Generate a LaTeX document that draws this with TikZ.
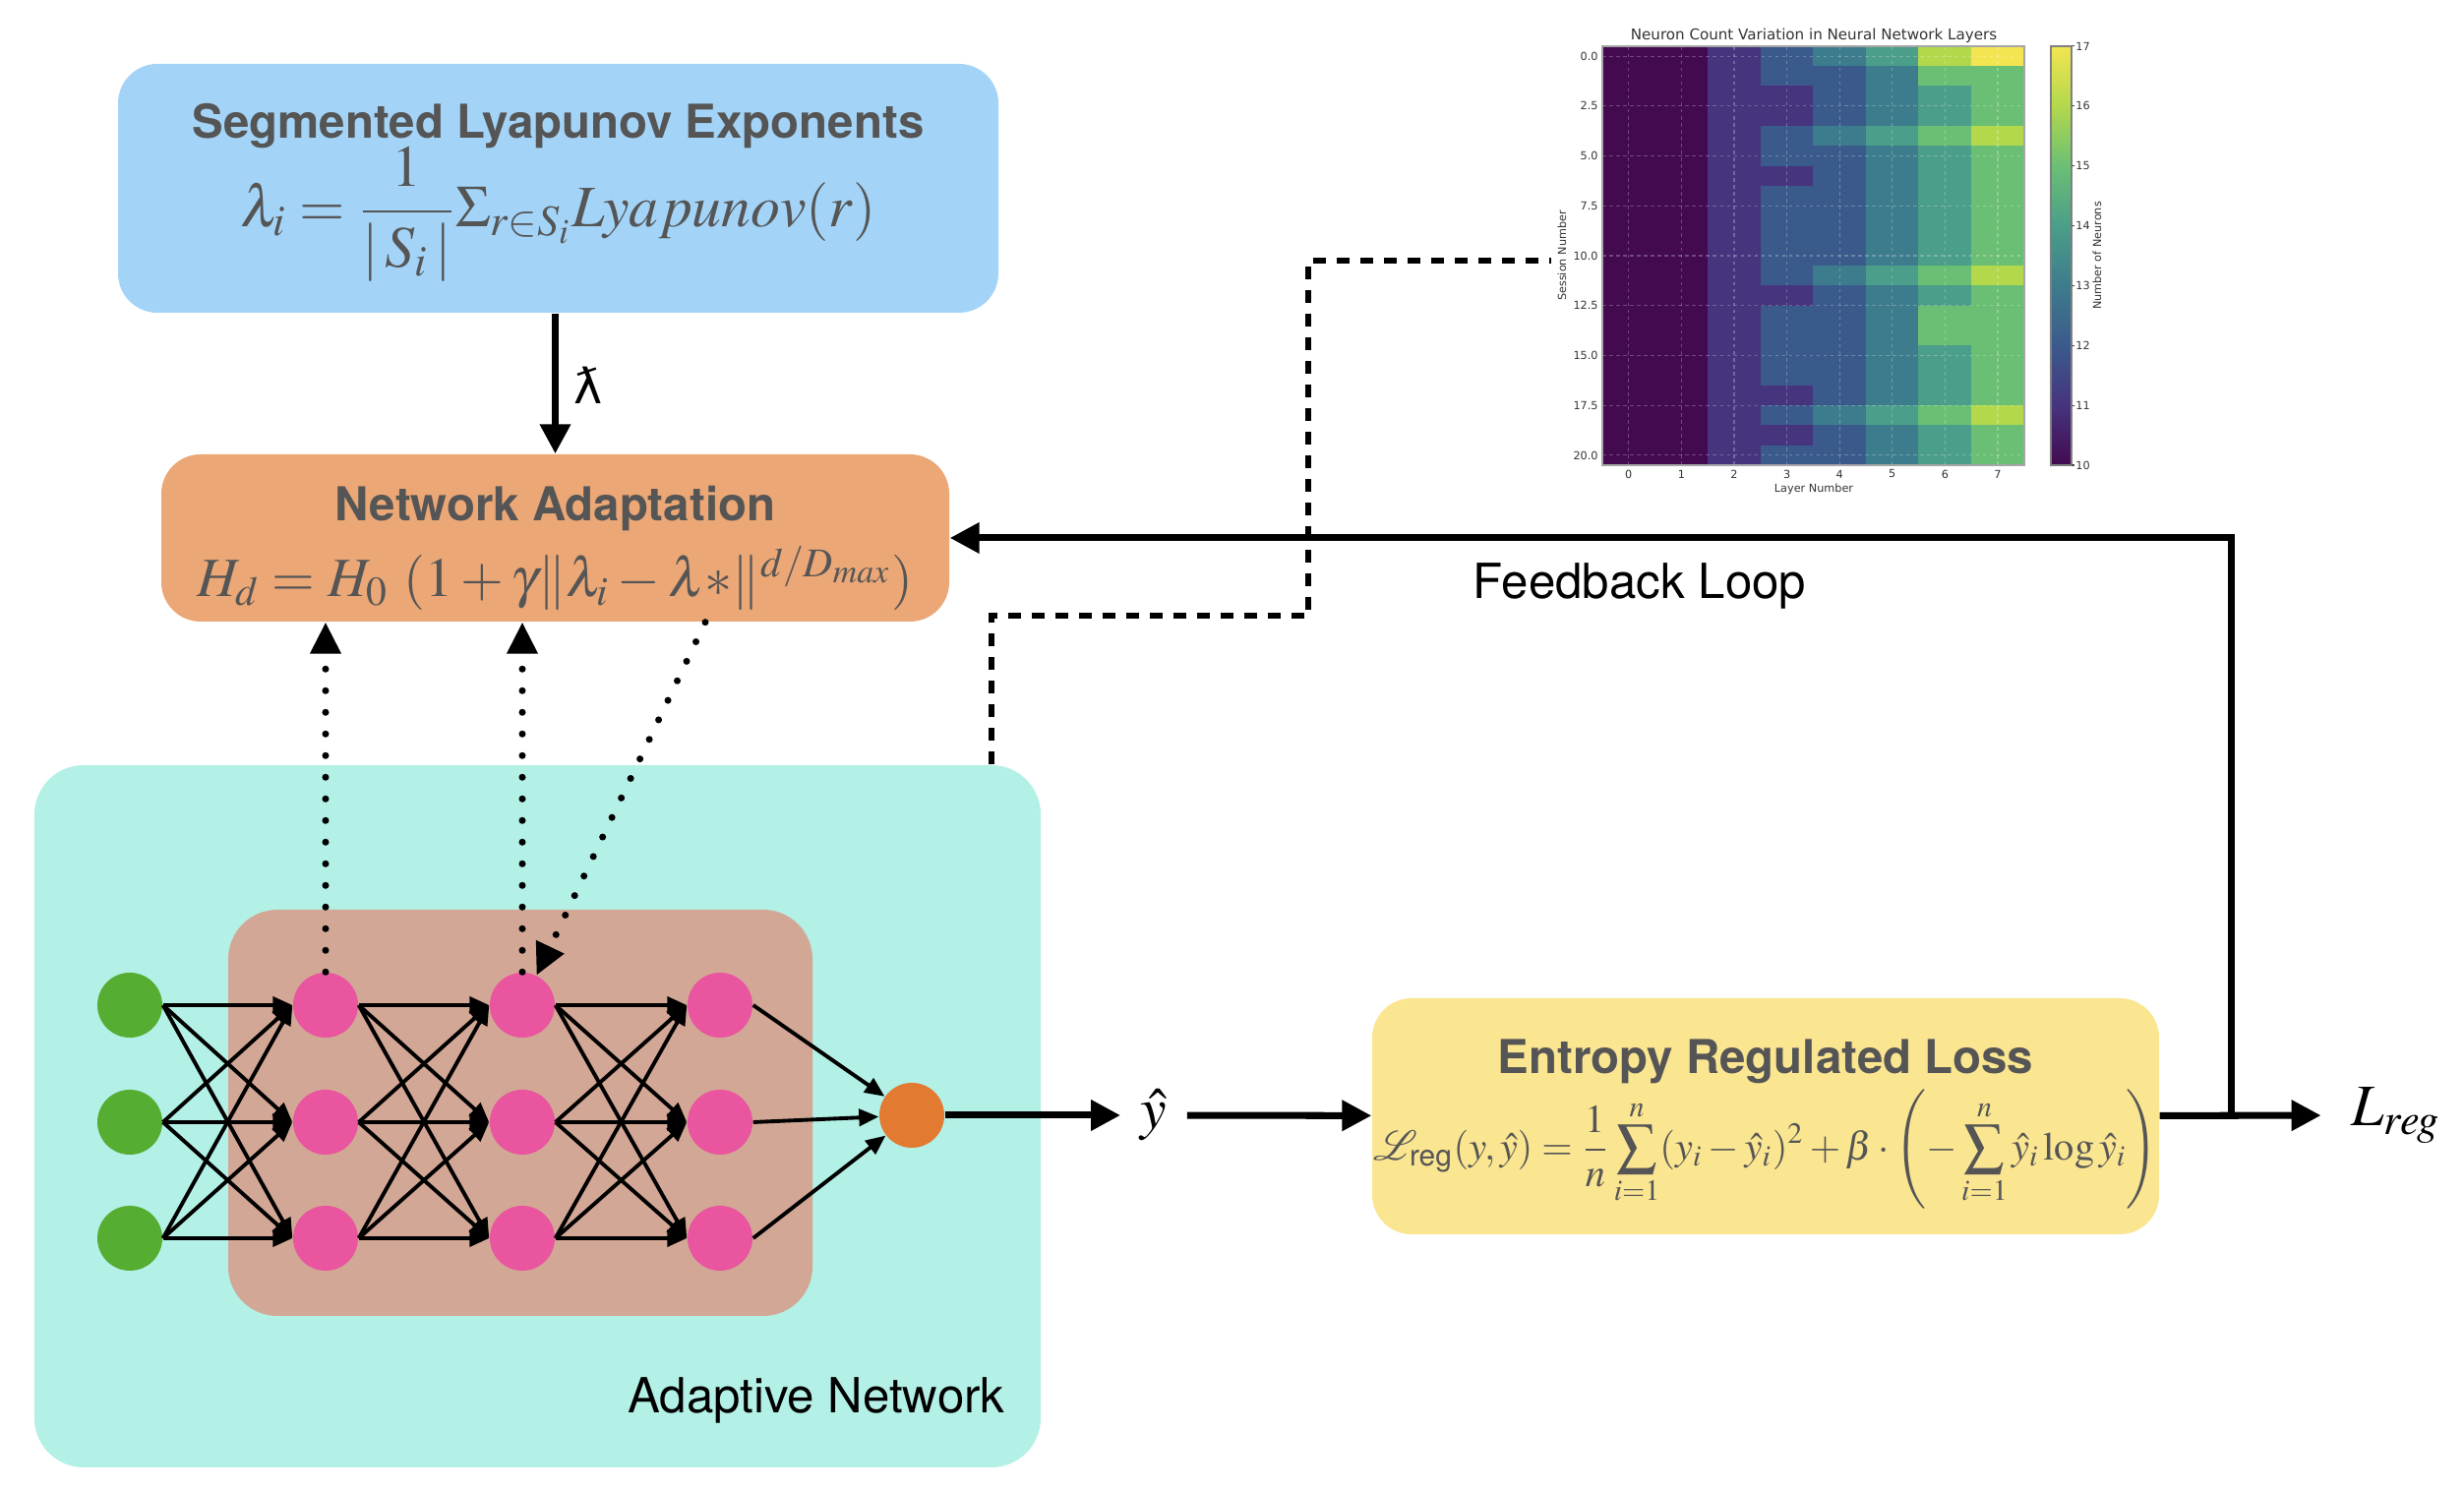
\documentclass[tikz,border=0pt]{standalone}
\usepackage{amssymb,amsmath}
\usepackage[no-math]{fontspec}
\usepackage{mathptmx}
\usepackage{mathrsfs}
\setmainfont{TeX Gyre Heros}
\newfontfamily\plotfont{DejaVu Sans}
\newfontfamily\lamfont{DejaVu Sans}
\usepackage{tikz}
\usetikzlibrary{arrows.meta,positioning}

\definecolor{lyapblue}{HTML}{A3D4F8}
\definecolor{adaptorange}{HTML}{EBA776}
\definecolor{netcyan}{HTML}{B3F0E6}
\definecolor{hidbrown}{HTML}{D3A795}
\definecolor{lossyellow}{HTML}{FAE591}
\definecolor{ingreen}{HTML}{55AD32}
\definecolor{hidpink}{HTML}{E9559F}
\definecolor{outorange}{HTML}{E37A31}
\definecolor{txtgray}{HTML}{555555}
\definecolor{hm10}{HTML}{430A50}
\definecolor{hm11}{HTML}{46347E}
\definecolor{hm12}{HTML}{3B5A8C}
\definecolor{hm13}{HTML}{3D7C8C}
\definecolor{hm14}{HTML}{4B9E89}
\definecolor{hm15}{HTML}{6BBF74}
\definecolor{hm16}{HTML}{B3D84C}
\definecolor{hm17}{HTML}{F2E551}

\begin{document}
\begin{tikzpicture}[
  panel/.style={rounded corners=0.4cm, inner sep=0pt},
  boxtitle/.style={font=\bfseries\fontsize{13.5}{16}\selectfont, text=txtgray},
  formula/.style={font=\fontsize{17}{20}\selectfont, text=txtgray},
  plainlabel/.style={font=\fontsize{14}{17}\selectfont},
  neuron/.style={circle, minimum size=0.66cm, inner sep=0pt},
  nnedge/.style={line width=1.1pt, -{Triangle[length=0.2cm,width=0.17cm]}},
  thickarr/.style={line width=2pt, -{Triangle[length=0.3cm,width=0.3cm]}},
  dotarr/.style={line width=2pt, line cap=round, dash pattern=on 0pt off 0.22cm, -{Triangle[length=0.32cm,width=0.3cm]}},
  dashline/.style={line width=1.7pt, dash pattern=on 0.13cm off 0.11cm},
  ticktext/.style={font=\plotfont\fontsize{3.2}{3.8}\selectfont, text=black!80, inner sep=0.5pt}
]
\useasboundingbox (0,0) rectangle (25.05,15.16);

\node[panel, fill=lyapblue, minimum width=8.95cm, minimum height=2.53cm] (lyap) at (5.675,13.245) {};
\node[boxtitle] (lyapt) at (5.675,13.88) {Segmented Lyapunov Exponents};
\node[formula] (lyapf) at (5.675,12.98) {$\displaystyle\lambda_i=\frac{1}{|\,S_i\,|}\Sigma_{r\in S_i}Lyapunov(r)$};

\node[panel, fill=adaptorange, minimum width=8.01cm, minimum height=1.70cm] (adapt) at (5.645,9.69) {};
\node[boxtitle] (adaptt) at (5.645,9.99) {Network Adaptation};
\node[formula, font=\fontsize{16}{19}\selectfont] (adaptf) at (5.645,9.28) {$H_d=H_0\ (1+\gamma\|\lambda_i-\lambda{*}\|^{d/D_{max}})$};

\node[panel, fill=lossyellow, minimum width=8.0cm, minimum height=2.40cm] (loss) at (17.95,3.81) {};
\node[boxtitle] (losst) at (17.95,4.37) {Entropy Regulated Loss};
\node[formula, font=\fontsize{11.5}{14}\selectfont] (lossf) at (17.95,3.47) {$\displaystyle\mathscr{L}_{\text{reg}}(y,\hat{y})=\frac{1}{n}\sum_{i=1}^{n}(y_i-\hat{y}_i)^2+\beta\cdot\left(-\sum_{i=1}^{n}\hat{y}_i\log\hat{y}_i\right)$};

\node[panel, rounded corners=0.5cm, fill=netcyan, minimum width=10.23cm, minimum height=7.14cm] (net) at (5.465,3.81) {};
\node[panel, rounded corners=0.5cm, fill=hidbrown, minimum width=5.94cm, minimum height=4.13cm] (hid) at (5.29,3.845) {};
\node[plainlabel] (netl) at (8.30,0.92) {Adaptive Network};

\foreach \k/\y in {1/4.94,2/3.75,3/2.57} {
  \node[neuron, fill=ingreen] (i\k) at (1.32,\y) {};
  \node[neuron, fill=hidpink] (h1\k) at (3.31,\y) {};
  \node[neuron, fill=hidpink] (h2\k) at (5.31,\y) {};
  \node[neuron, fill=hidpink] (h3\k) at (7.32,\y) {};
}
\node[neuron, fill=outorange] (out) at (9.27,3.82) {};

\foreach \a in {1,2,3} \foreach \b in {1,2,3} {
  \draw[nnedge] (i\a.east) -- (h1\b.west);
  \draw[nnedge] (h1\a.east) -- (h2\b.west);
  \draw[nnedge] (h2\a.east) -- (h3\b.west);
}
\foreach \a in {1,2,3} \draw[nnedge] (h3\a.east) -- (out);

\draw[dotarr] (h11) -- (h11 |- adapt.south);
\draw[dotarr] (h21) -- (h21 |- adapt.south);
\draw[dotarr] ([xshift=1.525cm]adapt.south) -- (h21);

\draw[thickarr] (lyap.south -| adapt.north) -- (adapt.north);
\node[font=\lamfont\fontsize{14}{16}\selectfont] (lam) at (5.98,11.24) {ƛ};

\node[font=\fontsize{17}{20}\selectfont, inner sep=0.2cm] (yhat) at (11.73,3.82) {$\hat{y}$};
\node[font=\fontsize{17}{20}\selectfont, inner sep=0.3cm] (lreg) at (24.36,3.82) {$L_{reg}$};
\coordinate (fb) at (22.68,3.82);
\draw[thickarr] (out) -- (yhat);
\draw[thickarr] (yhat) -- (loss);
\draw[thickarr] (loss) -- (lreg);
\draw[thickarr] (fb) |- (adapt.east);
\node[plainlabel] (fbl) at (16.67,9.20) {Feedback Loop};

\coordinate (hm) at (15.77,12.51);
\draw[dashline] ([xshift=-0.51cm]net.north east) -- ++(0,1.51) -| (13.30,12.51) -- (hm);

\fill[hm10] (16.29,10.43) rectangle (17.362,14.69);
\fill[hm11] (17.362,10.43) rectangle (17.898,14.69);
\foreach \r/\a/\b/\c/\d/\e in {0/12/13/14/16/17,1/12/12/13/15/15,2/11/12/13/14/15,3/11/12/13/14/15,
  4/12/13/14/15/16,5/12/12/13/14/15,6/11/12/13/14/15,7/12/12/13/14/15,8/12/12/13/14/15,
  9/12/12/13/14/15,10/12/12/13/14/15,11/12/13/14/15/16,12/11/12/13/14/15,13/12/12/13/15/15,
  14/12/12/13/15/15,15/12/12/13/14/15,16/12/12/13/14/15,17/11/12/13/14/15,18/12/13/14/15/16,
  19/11/12/13/14/15,20/12/12/13/14/15} {
  \foreach \v [count=\k from 3] in {\a,\b,\c,\d,\e}
    \fill[fill=hm\v, draw=hm\v, line width=0.1pt] ({16.29+\k*0.536},{14.69-\r*0.2029}) rectangle ++(0.536,-0.2029);
}
\foreach \c in {0,...,7}
  \draw[white, opacity=0.25, line width=0.3pt, dash pattern=on 1pt off 1pt] ({16.29+(\c+0.5)*0.536},10.43) -- ++(0,4.26);
\foreach \v in {0,2.5,...,20}
  \draw[white, opacity=0.25, line width=0.3pt, dash pattern=on 1pt off 1pt] (16.29,{14.69-(\v+0.5)*0.2029}) -- ++(4.29,0);
\draw[gray!70, line width=0.4pt] (16.29,10.43) rectangle (20.58,14.69);
\foreach \v/\t [count=\n] in {0/0.0,2.5/2.5,5/5.0,7.5/7.5,10/10.0,12.5/12.5,15/15.0,17.5/17.5,20/20.0}
  \node[ticktext, anchor=east] (yt\n) at (16.27,{14.69-(\v+0.5)*0.2029}) {\t};
\foreach \c in {0,...,7}
  \node[ticktext] (xt\c) at ({16.29+(\c+0.5)*0.536},10.34) {\c};
\foreach \v [evaluate=\v as \w using int(\v+1)] in {10,...,16}
  \shade[bottom color=hm\v, top color=hm\w] (20.85,{10.43+(\v-10)*0.6086}) rectangle ++(0.21,0.6086);
\draw[gray, line width=0.3pt] (20.85,10.43) rectangle (21.06,14.69);
\foreach \v in {10,...,17} {
  \draw[black!70, line width=0.3pt] (21.06,{10.43+(\v-10)*0.6086}) -- ++(0.03,0);
  \node[ticktext, anchor=west] (ct\v) at (21.08,{10.43+(\v-10)*0.6086}) {\v};
}
\node[font=\plotfont\fontsize{4.3}{5}\selectfont, text=black!80] (hmt) at (18.44,14.80) {Neuron Count Variation in Neural Network Layers};
\node[ticktext] (hmx) at (18.44,10.19) {Layer Number};
\node[ticktext, rotate=90] (hmy) at (15.88,12.56) {Session Number};
\node[ticktext, rotate=90] (hmc) at (21.32,12.56) {Number of Neurons};

\end{tikzpicture}
\end{document}
